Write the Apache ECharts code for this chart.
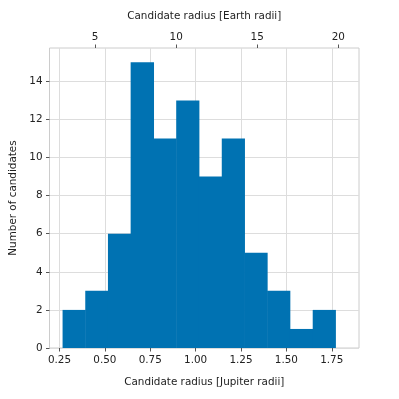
<!DOCTYPE html>
<html>
<head>
<meta charset="utf-8">
<script src="https://cdn.jsdelivr.net/npm/echarts@6/dist/echarts.min.js"></script>
<style>
html, body { margin: 0; padding: 0; background: #fff; }
#myChart { width: 399px; height: 399px; }
</style>
</head>
<body>
<div id="myChart"></div>
<script>
// bin edges in Jupiter radii
var binEdges = [0.267, 0.392, 0.517, 0.642, 0.768, 0.893, 1.018, 1.144, 1.269, 1.394, 1.519, 1.645, 1.770];
// number of candidates in each bin
var counts = [2, 3, 6, 15, 11, 13, 9, 11, 5, 3, 1, 2];
// tick labels
var jupiterTicks = [0.25, 0.5, 0.75, 1.0, 1.25, 1.5, 1.75];
var earthTicks = [5, 10, 15, 20];
var countTicks = [0, 2, 4, 6, 8, 10, 12, 14];

var EARTH_PER_JUPITER = 11.2;
var xMin = 0.195, xMax = 1.90;

var bins = [];
for (var i = 0; i < counts.length; i++) {
    bins.push([binEdges[i], binEdges[i + 1], counts[i]]);
}

var font = 'DejaVu Sans';
var txt = '#222222';
var fs = 10.4;

var myChart = echarts.init(document.getElementById('myChart'));
myChart.setOption({
    animation: false,
    grid: {
        left: 49.5, right: 40, top: 48, bottom: 51,
        show: true, borderColor: '#cccccc', borderWidth: 1
    },
    xAxis: [
        {
            type: 'value',
            position: 'bottom',
            min: xMin, max: xMax,
            name: 'Candidate radius [Jupiter radii]',
            nameLocation: 'middle',
            nameGap: 29,
            nameTextStyle: { fontFamily: font, fontSize: fs, color: txt },
            axisLine: { show: false },
            axisTick: { show: true, length: 3.5, customValues: jupiterTicks, lineStyle: { color: '#555' } },
            axisLabel: { customValues: jupiterTicks, fontFamily: font, fontSize: fs, color: txt, margin: 7,
                formatter: function (v) { return v.toFixed(2); } },
            splitLine: { show: true, lineStyle: { color: '#dddddd', width: 1 } }
        },
        {
            type: 'value',
            position: 'top',
            min: xMin * EARTH_PER_JUPITER, max: xMax * EARTH_PER_JUPITER,
            name: 'Candidate radius [Earth radii]',
            nameLocation: 'middle',
            nameGap: 27,
            nameTextStyle: { fontFamily: font, fontSize: fs, color: txt },
            axisLine: { show: false },
            axisTick: { show: true, length: 3.5, customValues: earthTicks, lineStyle: { color: '#555' } },
            axisLabel: { customValues: earthTicks, fontFamily: font, fontSize: fs, color: txt, margin: 6 },
            splitLine: { show: false }
        }
    ],
    yAxis: {
        type: 'value',
        min: 0, max: 15.75,
        name: 'Number of candidates',
        nameLocation: 'middle',
        nameGap: 31,
        nameTextStyle: { fontFamily: font, fontSize: fs, color: txt },
        axisLine: { show: false },
        axisTick: { show: true, length: 3.5, customValues: countTicks, lineStyle: { color: '#555' } },
        axisLabel: { customValues: countTicks, fontFamily: font, fontSize: fs, color: txt, margin: 7 },
        splitLine: { show: true, lineStyle: { color: '#dddddd', width: 1 } }
    },
    series: [{
        type: 'custom',
        xAxisIndex: 0,
        data: bins,
        encode: { x: [0, 1], y: 2 },
        renderItem: function (params, api) {
            var p0 = api.coord([api.value(0), api.value(2)]);
            var p1 = api.coord([api.value(1), 0]);
            return {
                type: 'rect',
                shape: { x: p0[0], y: p0[1], width: p1[0] - p0[0] + 0.5, height: p1[1] - p0[1] },
                style: { fill: '#0072b2' }
            };
        }
    }]
});
</script>
</body>
</html>
